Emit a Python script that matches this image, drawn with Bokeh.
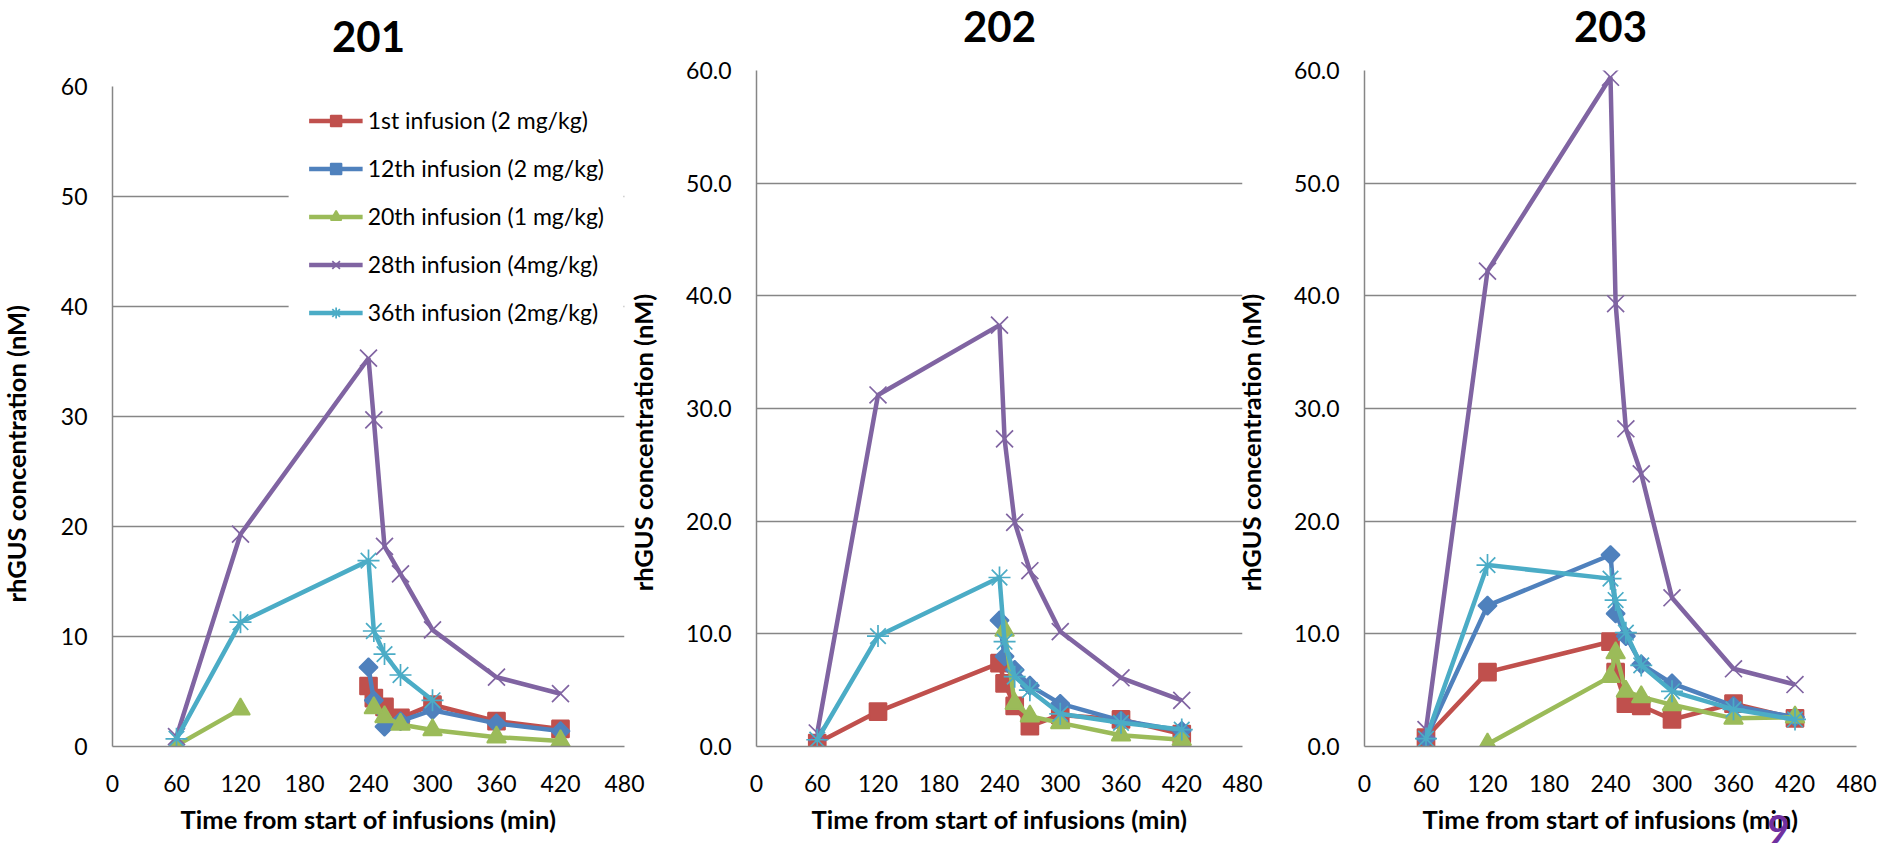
import numpy as np
from bokeh.plotting import figure
from bokeh.layouts import row
from bokeh.models import (Range1d, FixedTicker, PrintfTickFormatter, Legend, LegendItem,
                          ColumnDataSource, LinearAxis, Title)
from bokeh.embed import file_html
from bokeh.resources import INLINE

NA = float("nan")
NBSP = "\u00a0"

# ---------------- data ----------------
times = [60, 120, 240, 245, 255, 270, 300, 360, 420]
series_names = ["1st infusion (2 mg/kg)", "12th infusion (2 mg/kg)", "20th infusion (1 mg/kg)",
                "28th infusion (4mg/kg)", "36th infusion (2mg/kg)"]
panel_titles = ["201", "202", "203"]
x_ticks = [0, 60, 120, 180, 240, 300, 360, 420, 480]
y_ticks = [0, 10, 20, 30, 40, 50, 60]
x_title = "Time from start of infusions (min)"
y_title = "rhGUS concentration (nM)"
page_number = "9"

# patient 201
s201_1st = [NA, NA, 5.5, 4.4, 3.6, 2.6, 3.8, 2.3, 1.6]
s201_12th = [NA, NA, 7.2, 4.2, 1.8, 2.3, 3.3, 2.1, 1.4]
s201_20th = [0.1, 3.4, NA, 3.5, 2.7, 2.0, 1.5, 0.85, 0.5]
s201_28th = [0.9, 19.3, 35.3, 29.7, 18.2, 15.7, 10.6, 6.3, 4.8]
s201_36th = [0.7, 11.3, 16.9, 10.5, 8.4, 6.5, 4.2, NA, NA]

# patient 202
s202_1st = [0.3, 3.1, 7.4, 5.6, 3.6, 1.8, 2.8, 2.4, 1.1]
s202_12th = [NA, NA, 11.2, 8.0, 6.8, 5.4, 3.8, 2.3, 1.4]
s202_20th = [NA, NA, NA, 10.3, 3.8, 2.7, 2.1, 1.0, 0.6]
s202_28th = [1.2, 31.2, 37.4, 27.3, 19.9, 15.6, 10.2, 6.1, 4.1]
s202_36th = [0.6, 9.8, 15.0, 9.3, 6.2, 5.0, 2.9, 2.1, 1.5]

# patient 203
s203_1st = [0.8, 6.6, 9.3, 6.6, 3.8, 3.6, 2.4, 3.8, 2.5]
s203_12th = [0.7, 12.5, 17.0, 11.8, 9.8, 7.3, 5.6, 3.6, 2.6]
s203_20th = [NA, 0.2, 6.2, 8.3, 4.9, 4.4, 3.7, 2.5, 2.6]
s203_28th = [1.5, 42.2, 59.4, 39.3, 28.2, 24.2, 13.2, 6.9, 5.5]
s203_36th = [0.7, 16.1, 14.9, 13.0, 10.1, 7.2, 4.9, 3.3, 2.4]

panels_data = [
    [s201_1st, s201_12th, s201_20th, s201_28th, s201_36th],
    [s202_1st, s202_12th, s202_20th, s202_28th, s202_36th],
    [s203_1st, s203_12th, s203_20th, s203_28th, s203_36th],
]

# ---------------- style ----------------
FONT = "Lato"
colors = ["#C0504D", "#4F81BD", "#9BBB59", "#8064A2", "#4BACC6"]
markers = ["square", "square", "triangle", "x", "asterisk"]
msizes = [17, 13, 19, 24, 22]
mangles = [0, np.pi / 4, 0, 0, 0]
GRID = "#868686"

# layout of the three panels (pixels)
geo = [
    dict(bl=140, br=26, bt=120, bb=110, fw=512, fh=660, ml=-28, mt=-34,
         tstand=35, yals=27, ypad=12, fmt="%d"),
    dict(bl=140, br=26, bt=120, bb=110, fw=486, fh=676, ml=-34, mt=-50,
         tstand=29, yals=25, ypad=11, fmt="%.1f"),
    dict(bl=140, br=25, bt=120, bb=110, fw=492, fh=676, ml=-44, mt=-50,
         tstand=29, yals=25, ypad=11, fmt="%.1f"),
]

figs = []
for i, (g, data) in enumerate(zip(geo, panels_data)):
    p = figure(frame_width=g["fw"], frame_height=g["fh"],
               min_border_left=g["bl"], min_border_right=g["br"],
               min_border_top=g["bt"], min_border_bottom=g["bb"],
               x_range=Range1d(0, 480), y_range=Range1d(0, 60),
               output_backend="svg", toolbar_location=None, tools="")
    p.margin = (g["mt"], 0, 0, g["ml"])
    p.outline_line_color = None
    p.background_fill_color = "white"
    p.border_fill_alpha = 0

    p.xaxis.ticker = FixedTicker(ticks=x_ticks, minor_ticks=[])
    p.yaxis.ticker = FixedTicker(ticks=y_ticks, minor_ticks=[])
    p.yaxis.formatter = PrintfTickFormatter(format=g["fmt"])
    for ax in (p.xaxis, p.yaxis):
        ax.major_tick_out = 0
        ax.major_tick_in = 0
        ax.minor_tick_out = 0
        ax.minor_tick_in = 0
        ax.axis_line_color = GRID
        ax.axis_line_width = 1.5
        ax.major_label_text_font = FONT
        ax.major_label_text_font_size = "23px"
        ax.major_label_text_color = "black"
        ax.axis_label_text_font = FONT
        ax.axis_label_text_font_style = "bold"
        ax.axis_label_text_font_size = "25.5px"
        ax.axis_label_text_color = "black"
    p.xaxis.major_label_standoff = 28
    p.yaxis.major_label_standoff = 25
    p.xaxis.axis_label = x_title
    p.xaxis.axis_label_standoff = 9
    # trailing no-break spaces move the rotated title down to where the original sits
    p.yaxis.axis_label = y_title + NBSP * g["ypad"]
    p.yaxis.axis_label_standoff = g["yals"]

    p.xgrid.visible = False
    p.ygrid.grid_line_color = GRID
    p.ygrid.grid_line_width = 1.5

    # panel title carried by an unticked axis above the frame
    top_ax = LinearAxis(ticker=FixedTicker(ticks=[], minor_ticks=[]), axis_line_color=None,
                        major_tick_out=0, major_tick_in=0, minor_tick_out=0, minor_tick_in=0,
                        axis_label=panel_titles[i], axis_label_text_font=FONT,
                        axis_label_text_font_style="bold", axis_label_text_font_size="42px",
                        axis_label_text_color="black", axis_label_standoff=g["tstand"])
    p.add_layout(top_ax, "above")

    items = []
    for k in range(5):
        src = ColumnDataSource(dict(t=times, v=data[k]))
        ln = p.line("t", "v", source=src, line_color=colors[k], line_width=4.5)
        mk = p.scatter("t", "v", source=src, marker=markers[k], size=msizes[k], angle=mangles[k],
                       fill_color=colors[k], line_color=colors[k], line_width=1.7)
        items.append(LegendItem(label=series_names[k], renderers=[ln, mk]))

    if i == 0:
        leg = Legend(items=items, location="top_right", margin=0, padding=20,
                     spacing=20, label_height=27, glyph_height=27, glyph_width=54,
                     label_standoff=5, border_line_alpha=0, background_fill_color="white",
                     background_fill_alpha=1.0, label_text_font=FONT,
                     label_text_font_size="23px", label_text_color="black")
        p.add_layout(leg)

    if i == 2:
        p.add_layout(Title(text=page_number, align="right", offset=67, vertical_align="top",
                           standoff=-44, text_font=FONT, text_font_size="38px",
                           text_color="#7030A0"), "below")
    figs.append(p)

layout = row(*figs, spacing=0)
open("out.html", "w").write(file_html(layout, INLINE))
